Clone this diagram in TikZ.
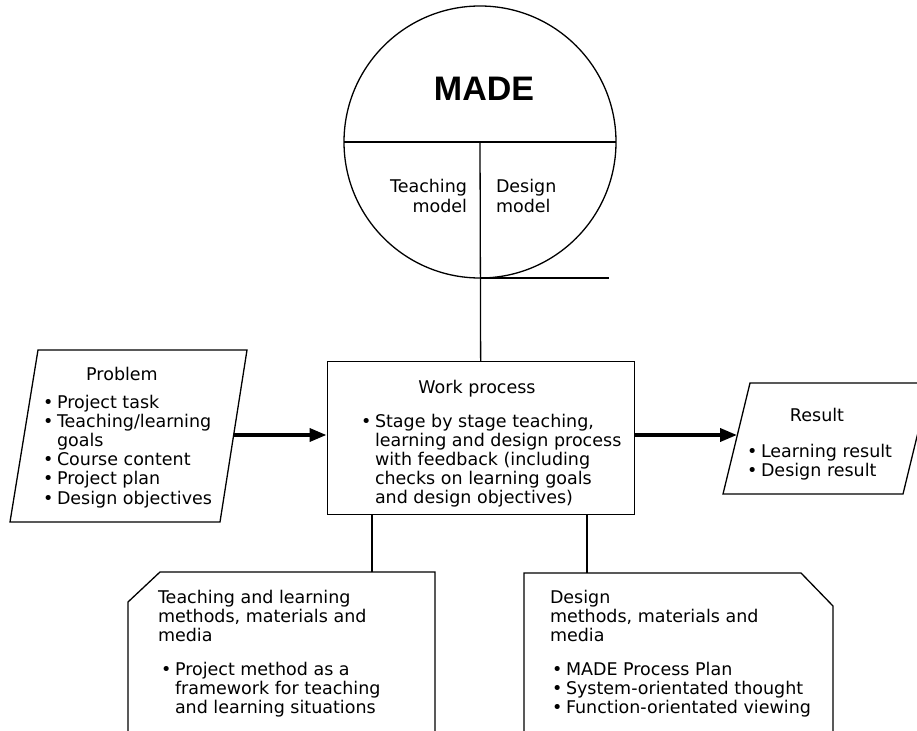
\documentclass[tikz,border=0pt]{standalone}
\usepackage{fontspec}
\setmainfont{DejaVu Sans}
\newfontfamily\madefont{Liberation Sans}
\usetikzlibrary{arrows.meta}
\newcommand\bodyfont{\fontsize{17.5}{19}\selectfont}
\newcommand\bblock[1]{\vtop{\baselineskip=19.2pt\lineskiplimit=-30pt\lineskip=0pt #1}}
\newcommand\bitem[1]{\hbox{\makebox[14pt][l]{•}#1}}
\newcommand\bcont[1]{\hbox{\hspace*{14pt}#1}}
\newcommand\bline[1]{\hbox{#1}}
\begin{document}
\begin{tikzpicture}[x=1pt,y=-1pt, line width=1.3pt, font=\bodyfont,
  txt/.style={inner sep=0pt, outer sep=0pt},
  flow/.style={line width=3.6pt, -{Triangle[length=17pt,width=13pt]}}]
\useasboundingbox (0,0) rectangle (917,730);
\fill[white] (0,0) rectangle (917,730);
\clip (0,0) rectangle (917,730);

% MADE circle
\coordinate (mc) at (480,142);
\coordinate (ml) at (344,142);
\coordinate (mr) at (616,142);
\coordinate (mb) at (480,278);
\coordinate (mt) at (609,278);
\draw (mc) circle[radius=136pt];
\draw (ml) -- (mr);
\draw (mb) -- (mt);

% Work process box
\node[draw, minimum width=307pt, minimum height=153pt, anchor=north west, inner sep=0pt] (work) at (326.5,361) {};
\draw (mc) -- (work.north);

% Problem parallelogram
\coordinate (p1) at (38,350);
\coordinate (p2) at (247,350);
\coordinate (p3) at (220,522);
\coordinate (p4) at (10,522);
\draw (p1) -- (p2) -- (p3) -- (p4) -- cycle;
\coordinate (pa) at (234,435);
\draw[flow] (pa) -- (pa -| work.west);

% Result parallelogram
\coordinate (r1) at (750,383);
\coordinate (r2) at (930,383);
\coordinate (r3) at (903,494);
\coordinate (r4) at (723,494);
\draw (r1) -- (r2) -- (r3) -- (r4) -- cycle;
\coordinate (ra) at (737,435);
\draw[flow] (ra -| work.east) -- (ra);

% Teaching box
\draw (128,745) -- (128,602) -- (160,572) -- (435,572) -- (435,745);
\coordinate (ttop) at (372,572);
\draw (ttop) -- (ttop |- work.south);

% Design box
\draw (524,745) -- (524,573) -- (801,573) -- (833,606) -- (833,745);
\coordinate (dtop) at (587,573);
\draw (dtop) -- (dtop |- work.south);

% Texts
\node[txt, font=\madefont\bfseries\fontsize{34}{36}\selectfont, anchor=base] (made) at (484,101) {MADE};
\node[txt, anchor=base east] (tm1) at (467,193) {Teaching};
\node[txt, anchor=base east] (tm2) at (467,212) {model};
\node[txt, anchor=base west] (dm1) at (496,193) {Design};
\node[txt, anchor=base west] (dm2) at (496,212) {model};

\node[txt, anchor=base] (ptitle) at (122,380) {Problem};
\node[txt, anchor=base west] (plist) at (43,408) {\bblock{\bitem{Project task}\bitem{Teaching/learning}\bcont{goals}\bitem{Course content}\bitem{Project plan}\bitem{Design objectives}}};

\node[txt, anchor=base] (wtitle) at (477,393) {Work process};
\node[txt, anchor=base west] (wlist) at (361,427) {\bblock{\bitem{Stage by stage teaching,}\bcont{learning and design process}\bcont{with feedback (including}\bcont{checks on learning goals}\bcont{and design objectives)}}};

\node[txt, anchor=base] (rtitle) at (817,421) {Result};
\node[txt, anchor=base west] (rlist) at (747,457) {\bblock{\bitem{Learning result}\bitem{Design result}}};

\node[txt, anchor=base west] (ttitle) at (158,603) {\bblock{\bline{Teaching and learning}\bline{methods, materials and}\bline{media}}};
\node[txt, anchor=base west] (tlist) at (161,675) {\bblock{\bitem{Project method as a}\bcont{framework for teaching}\bcont{and learning situations}}};

\node[txt, anchor=base west] (dtitle) at (550,603) {\bblock{\bline{Design}\bline{methods, materials and}\bline{media}}};
\node[txt, anchor=base west] (dlist) at (552,675) {\bblock{\bitem{MADE Process Plan}\bitem{System-orientated thought}\bitem{Function-orientated viewing}}};
\end{tikzpicture}
\end{document}
